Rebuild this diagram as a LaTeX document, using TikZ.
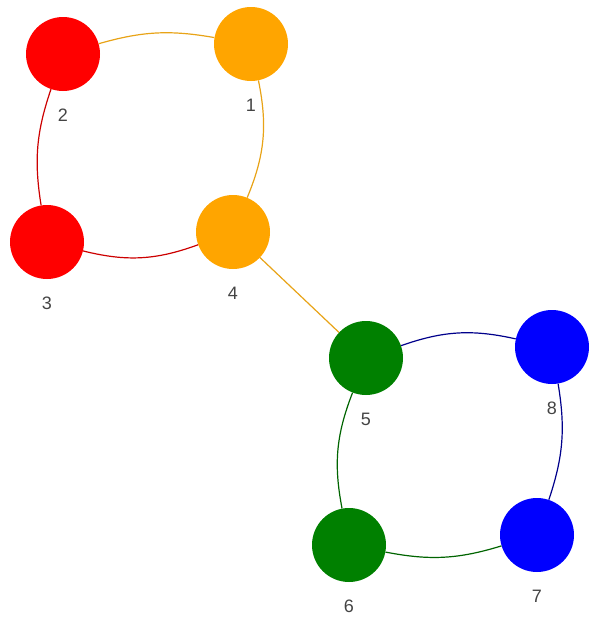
\documentclass[tikz,border=0pt]{standalone}
\usepackage{fontspec}
\setmainfont{Liberation Sans}
\usetikzlibrary{positioning}

\definecolor{uzelO}{HTML}{FFA500}
\definecolor{uzelR}{HTML}{FF0000}
\definecolor{uzelG}{HTML}{008000}
\definecolor{uzelB}{HTML}{0000FF}
\definecolor{hranaO}{HTML}{E8A317}
\definecolor{hranaR}{HTML}{CC0000}
\definecolor{hranaG}{HTML}{006400}
\definecolor{hranaB}{HTML}{00008B}
\definecolor{popis}{HTML}{444444}

\tikzset{
    uzel/.style={circle, minimum size=74pt, inner sep=0pt},
    cislo/.style={text=popis, font=\fontsize{18pt}{20pt}\selectfont},
    hrana/.style={line width=1.2pt}
}

\begin{document}
\begin{tikzpicture}[x=1pt, y=-1pt]
        \useasboundingbox (0,0) rectangle (595,627);

        % uzly
        \node[uzel, fill=uzelO] (n1) at (251,44) {};
        \node[uzel, fill=uzelR] (n2) at (63,54) {};
        \node[uzel, fill=uzelR] (n3) at (47,242) {};
        \node[uzel, fill=uzelO] (n4) at (233,232) {};
        \node[uzel, fill=uzelG] (n5) at (366,358) {};
        \node[uzel, fill=uzelG] (n6) at (349,545) {};
        \node[uzel, fill=uzelB] (n7) at (537,535) {};
        \node[uzel, fill=uzelB] (n8) at (552,347) {};

        % popisky
        \foreach \i in {1,...,8}
            \node[cislo, below=14pt of n\i] (c\i) {\i};

        % hrany
        \draw[hrana, hranaO] (n2) to[bend left=13] (n1);
        \draw[hrana, hranaO] (n1) to[bend left=17] (n4);
        \draw[hrana, hranaR] (n2) to[bend right=14] (n3);
        \draw[hrana, hranaR] (n3) to[bend right=17] (n4);
        \draw[hrana, hranaO] (n4) -- (n5);
        \draw[hrana, hranaB] (n5) to[bend left=16] (n8);
        \draw[hrana, hranaB] (n8) to[bend left=14] (n7);
        \draw[hrana, hranaG] (n5) to[bend right=16] (n6);
        \draw[hrana, hranaG] (n6) to[bend right=14] (n7);

    \end{tikzpicture}
\end{document}
